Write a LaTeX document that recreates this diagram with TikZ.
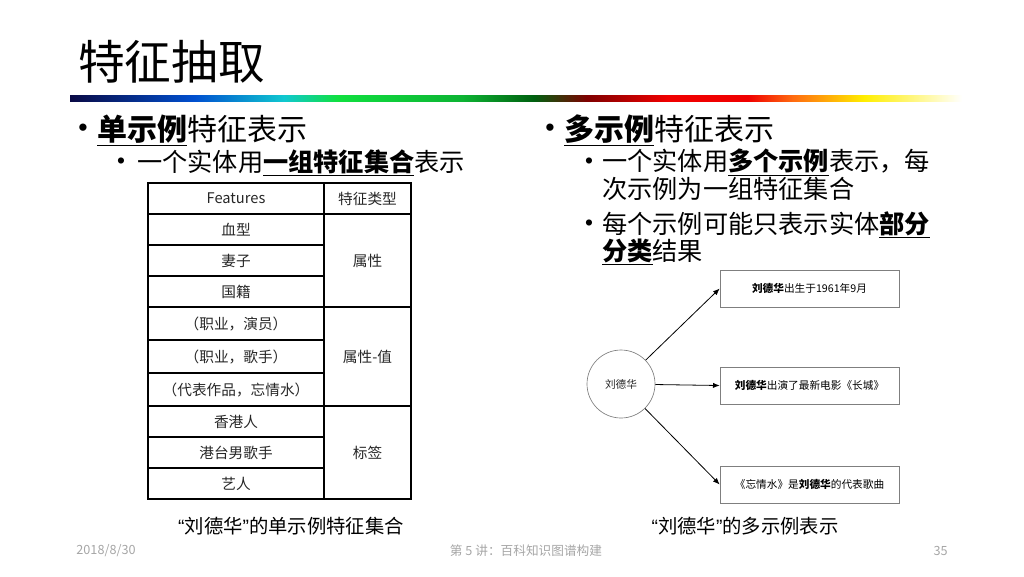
\documentclass[tikz,border=0pt]{standalone}
\usepackage{fontspec}
\setmainfont{Noto Sans CJK SC}
\newfontfamily\bulfont{Liberation Sans}
\usetikzlibrary{arrows.meta}
\definecolor{ppText}{HTML}{262626}
\definecolor{ppGray}{HTML}{A6A6A6}
\definecolor{ppLine}{HTML}{7F7F7F}
\definecolor{rbNavy}{HTML}{0A0A45}
\definecolor{rbBlue}{HTML}{0050D0}
\definecolor{rbCyan}{HTML}{10C8D0}
\definecolor{rbGreen}{HTML}{10E040}
\definecolor{rbDGreen}{HTML}{006010}
\definecolor{rbDRed}{HTML}{800000}
\definecolor{rbRed}{HTML}{F00000}
\definecolor{rbOrange}{HTML}{FF6A10}
\definecolor{rbYellow}{HTML}{FFEE00}
% stops mapped onto the central 25bp--75bp band that TikZ stretches over the path
\pgfdeclarehorizontalshading{ppRainbow}{100bp}{color(0bp)=(rbNavy); color(25bp)=(rbNavy); color(32bp)=(rbBlue); color(37bp)=(rbCyan); color(40bp)=(rbGreen); color(47bp)=(rbGreen!80!black); color(51bp)=(rbDGreen); color(54bp)=(rbDRed); color(58.5bp)=(rbRed); color(63bp)=(rbRed); color(65.5bp)=(rbOrange); color(69.5bp)=(rbYellow); color(75bp)=(white); color(100bp)=(white)}
\newcommand{\opq}{{\bulfont “}}
\newcommand{\clq}{{\bulfont ”}}

\begin{document}
\begin{tikzpicture}[
    x=0.75pt, y=-0.75pt,
    >={Latex[length=5pt,width=4pt]},
    headtxt/.style={font=\fontsize{35}{37}\selectfont, anchor=west, inner sep=0pt},
    lvlone/.style={font=\fontsize{22.5}{26}\selectfont, anchor=west, inner sep=0pt},
    lvltwo/.style={font=\fontsize{18.9}{20.5}\selectfont, anchor=west, inner sep=0pt, align=left},
    bul/.style={inner sep=0pt, font=\bulfont\fontsize{20}{20}\selectfont},
    subbul/.style={inner sep=0pt, font=\bulfont\fontsize{17}{17}\selectfont},
    cellf/.style={draw=black, line width=1pt, font=\fontsize{11}{13}\selectfont,
        text=ppText, inner sep=0pt, minimum width=132pt, minimum height=23.25pt},
    cellt/.style={cellf, minimum width=65.25pt},
    factbox/.style={draw=ppLine, line width=0.5pt, font=\fontsize{8}{10}\selectfont,
        minimum width=134.25pt, minimum height=28pt, inner sep=0pt},
    entity/.style={circle, draw=ppLine, line width=0.5pt, minimum size=51pt,
        font=\fontsize{8}{10}\selectfont, text=ppText, inner sep=0pt},
    arr/.style={->, line width=0.6pt},
    captxt/.style={font=\fontsize{14.5}{16}\selectfont, inner sep=0pt},
    foottxt/.style={font=\fontsize{9.5}{11}\selectfont, text=ppGray, inner sep=0pt},
]
\useasboundingbox (0,0) rectangle (1024,576);

%% title + rainbow rule
\node[headtxt] (title) at (78,62) {特征抽取};
\shade[shading=ppRainbow] (70,95) rectangle (962,101);

%% left column: single-instance
\node[bul] (dotL) at (83,130) {•};
\node[lvlone] (bulL) at (97,130) {\underline{\textbf{单示例}}特征表示};
\node[subbul] (dotLa) at (121,163) {•};
\node[lvltwo] (subL) at (137,163) {一个实体用\underline{\textbf{一组特征集合}}表示};

%% feature table
\node[cellf] (hF) at (236,198.5) {Features};
\node[cellt] (hT) at (367.5,198.5) {特征类型};

\node[cellf] (f1) at (236,229.5) {血型};
\node[cellf] (f2) at (236,260.5) {妻子};
\node[cellf] (f3) at (236,291.5) {国籍};
\node[cellt, minimum height=69.75pt] (t1) at (367.5,260.5) {属性};

\node[cellf, minimum height=24.75pt] (f4) at (236,323.5) {（职业，演员）};
\node[cellf, minimum height=24.75pt] (f5) at (236,356.5) {（职业，歌手）};
\node[cellf, minimum height=24.75pt] (f6) at (236,389.5) {（代表作品，忘情水）};
\node[cellt, minimum height=74.25pt] (t2) at (367.5,356.5) {属性-值};

\node[cellf] (f7) at (236,421.5) {香港人};
\node[cellf] (f8) at (236,452.5) {港台男歌手};
\node[cellf] (f9) at (236,483.5) {艺人};
\node[cellt, minimum height=69.75pt] (t3) at (367.5,452.5) {标签};

\node[captxt] (capL) at (291,526) {\opq 刘德华\clq 的单示例特征集合};

%% right column: multi-instance
\node[bul] (dotR) at (550,130) {•};
\node[lvlone] (bulR) at (564,130) {\underline{\textbf{多示例}}特征表示};
\node[subbul] (dotRa) at (589,163) {•};
\node[lvltwo, anchor=north west] (subRa) at (602,149)
    {一个实体用\underline{\textbf{多个示例}}表示，每\\次示例为一组特征集合};
\node[subbul] (dotRb) at (589,225) {•};
\node[lvltwo, anchor=north west] (subRb) at (602,211)
    {每个示例可能只表示实体\underline{\textbf{部分}}\\\underline{\textbf{分类}}结果};

%% entity and its instances
\node[entity] (ldh) at (621,384) {刘德华};
\node[factbox] (fact1) at (809.5,288.5) {\textbf{刘德华}出生于1961年9月};
\node[factbox] (fact2) at (809.5,385.5) {\textbf{刘德华}出演了最新电影《长城》};
\node[factbox] (fact3) at (809.5,484.5) {《忘情水》是\textbf{刘德华}的代表歌曲};

\draw[arr] (ldh) -- (fact1.west);
\draw[arr] (ldh) -- (fact2.west);
\draw[arr] (ldh) -- (fact3.west);

\node[captxt] (capR) at (745,526) {\opq 刘德华\clq 的多示例表示};

%% footer
\node[foottxt] (date) at (106,551) {2018/8/30};
\node[foottxt] (lect) at (526,551) {第 5 讲：百科知识图谱构建};
\node[foottxt, anchor=east] (page) at (948,551) {35};
\end{tikzpicture}
\end{document}
